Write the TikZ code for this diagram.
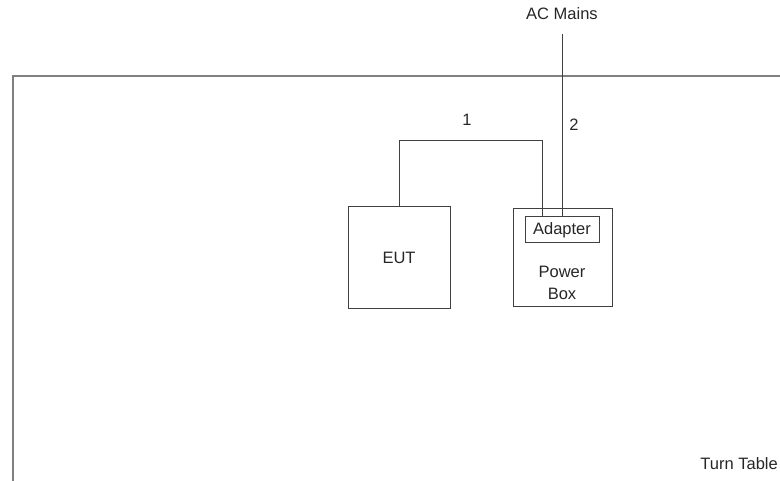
\documentclass[tikz,border=0pt]{standalone}
\usepackage{fontspec}
\setmainfont{Liberation Sans}
\definecolor{linec}{HTML}{404040}
\definecolor{tablec}{HTML}{808080}
\begin{document}
\begin{tikzpicture}[x=1pt,y=-1pt,
  every node/.style={font=\fontsize{16.5}{22}\selectfont, text=black!85, inner sep=0pt},
  unit/.style={draw=linec, line width=1pt},
  cable/.style={draw=linec, line width=1pt},
  tableframe/.style={draw=tablec, line width=2pt}]
\useasboundingbox (0,0) rectangle (780,481);
% turn table
\node[tableframe, anchor=north west, minimum width=800pt, minimum height=406pt] (table) at (12,75) {};
\node[anchor=south east] (ttl) at (778,470) {Turn Table};
% units
\node[unit, minimum width=102pt, minimum height=102pt] (eut) at (399,258) {EUT};
\node[unit, minimum width=99pt, minimum height=98pt] (pbox) at (562.5,258) {};
\node[unit, minimum width=74pt, minimum height=26pt] (adapter) at (562,230) {Adapter};
\node[align=center] (pbl) at (562,283) {Power\\Box};
% cables
\coordinate (c1) at (542,141);
\coordinate (ac) at (562,34);
\draw[cable] (eut.north) |- (c1) -- (c1 |- adapter.north);
\draw[cable] (ac) -- (ac |- adapter.north);
\node (l1) at (467,120) {1};
\node (l2) at (574,125) {2};
\node (acl) at (562,14) {AC Mains};
\end{tikzpicture}
\end{document}
